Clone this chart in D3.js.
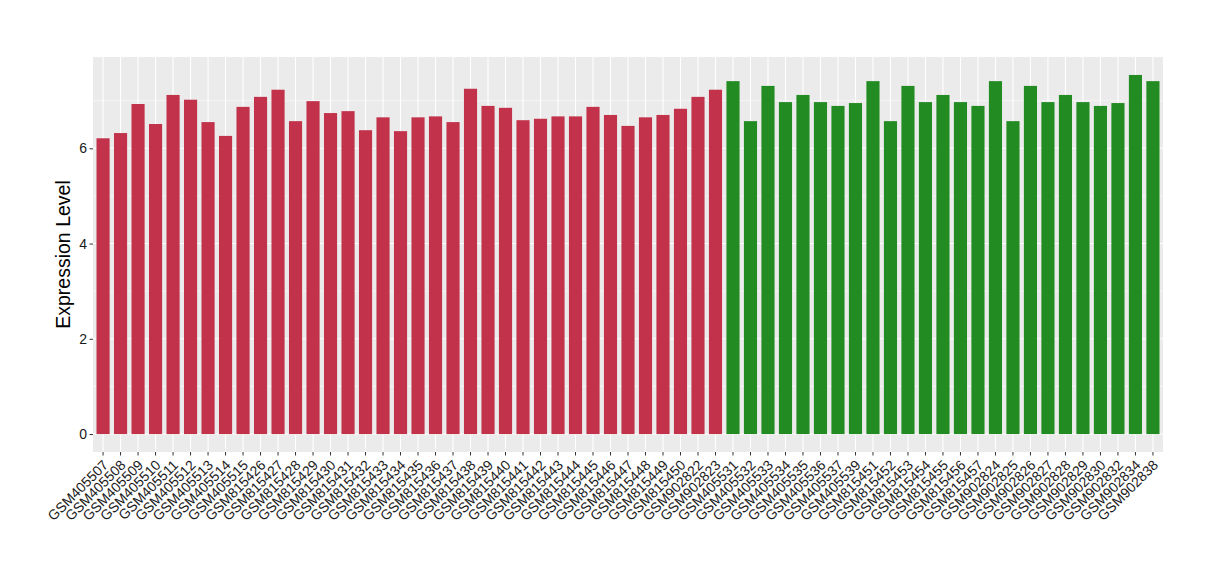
<!DOCTYPE html>
<html>
<head>
<meta charset="utf-8">
<script src="https://cdn.jsdelivr.net/npm/d3@7/dist/d3.min.js"></script>
<style>
  body { margin: 0; background: #fff; }
  text { font-family: "Liberation Sans", Arial, sans-serif; }
</style>
</head>
<body>
<svg class="expr-chart" width="1220" height="580"></svg>
<script>
// sample ids and expression values
var samples_red = ['GSM405507','GSM405508','GSM405509','GSM405510','GSM405511','GSM405512','GSM405513','GSM405514','GSM405515',
  'GSM815426','GSM815427','GSM815428','GSM815429','GSM815430','GSM815431','GSM815432','GSM815433','GSM815434','GSM815435',
  'GSM815436','GSM815437','GSM815438','GSM815439','GSM815440','GSM815441','GSM815442','GSM815443','GSM815444','GSM815445',
  'GSM815446','GSM815447','GSM815448','GSM815449','GSM815450','GSM902822','GSM902823'];
var values_red = [6.21,6.32,6.93,6.51,7.12,7.02,6.55,6.26,6.87,
  7.08,7.23,6.57,6.99,6.74,6.78,6.38,6.65,6.36,6.65,
  6.67,6.55,7.25,6.89,6.85,6.59,6.62,6.67,6.67,6.87,
  6.70,6.47,6.65,6.70,6.83,7.08,7.23];
var samples_green = ['GSM405531','GSM405532','GSM405533','GSM405534','GSM405535','GSM405536','GSM405537','GSM405539',
  'GSM815451','GSM815452','GSM815453','GSM815454','GSM815455','GSM815456','GSM815457',
  'GSM902824','GSM902825','GSM902826','GSM902827','GSM902828','GSM902829','GSM902830','GSM902832','GSM902834','GSM902838'];
var values_green = [7.41,6.57,7.31,6.97,7.12,6.97,6.89,6.95,
  7.41,6.57,7.31,6.97,7.12,6.97,6.89,
  7.41,6.57,7.31,6.97,7.12,6.97,6.89,6.95,7.54,7.41];
var y_ticks = [0, 2, 4, 6];

var data = [];
samples_red.forEach(function(s, i){ data.push({id: s, value: values_red[i], color: '#C2324A'}); });
samples_green.forEach(function(s, i){ data.push({id: s, value: values_green[i], color: '#228B22'}); });

var svg = d3.select('.expr-chart');
var margin = {top: 57, right: 57, bottom: 128, left: 93}
  , width = 1220 - margin.left - margin.right
  , height = 580 - margin.top - margin.bottom;

var g = svg.append('g')
  .attr('transform', 'translate(' + margin.left + ',' + margin.top + ')');

var ymax = d3.max(data, function(d){ return d.value; });
var yScale = d3.scaleLinear()
  .domain([-0.05 * ymax, ymax * 1.05])
  .range([height, 0]);

var xScale = d3.scaleBand()
  .domain(data.map(function(d){ return d.id; }))
  .range([0, width])
  .paddingInner(0.25)
  .paddingOuter(0.2);

// panel background
g.append('rect')
  .attr('width', width)
  .attr('height', height)
  .style('fill', '#EBEBEB');

// minor grid
g.selectAll('.minor')
  .data([1, 3, 5, 7])
  .enter().append('line')
  .attr('x1', 0).attr('x2', width)
  .attr('y1', function(d){ return yScale(d); })
  .attr('y2', function(d){ return yScale(d); })
  .style('stroke', '#fff').style('stroke-width', 0.55);

// major grid
g.selectAll('.hmajor')
  .data(y_ticks)
  .enter().append('line')
  .attr('x1', 0).attr('x2', width)
  .attr('y1', function(d){ return yScale(d); })
  .attr('y2', function(d){ return yScale(d); })
  .style('stroke', '#fff').style('stroke-width', 1.1);

g.selectAll('.vmajor')
  .data(data)
  .enter().append('line')
  .attr('x1', function(d){ return xScale(d.id) + xScale.bandwidth() / 2; })
  .attr('x2', function(d){ return xScale(d.id) + xScale.bandwidth() / 2; })
  .attr('y1', 0).attr('y2', height)
  .style('stroke', '#fff').style('stroke-width', 1.1);

// bars
g.selectAll('.bar')
  .data(data)
  .enter().append('rect')
  .attr('class', 'bar')
  .attr('x', function(d){ return xScale(d.id); })
  .attr('width', xScale.bandwidth())
  .attr('y', function(d){ return yScale(d.value); })
  .attr('height', function(d){ return yScale(0) - yScale(d.value); })
  .style('fill', function(d){ return d.color; });

// y axis
var y_axis = d3.axisLeft(yScale).tickValues(y_ticks).tickSize(3.5).tickPadding(2.5);
var yg = g.append('g').call(y_axis);
yg.select('.domain').remove();
yg.selectAll('line').style('stroke', '#333');
yg.selectAll('text').style('font-size', '14px').style('fill', '#1a1a1a');

// x axis
var x_axis = d3.axisBottom(xScale).tickSize(3.5);
var xg = g.append('g')
  .attr('transform', 'translate(0,' + height + ')')
  .call(x_axis);
xg.select('.domain').remove();
xg.selectAll('line').style('stroke', '#333');
xg.selectAll('text')
  .style('font-size', '14px')
  .style('fill', '#1a1a1a')
  .attr('text-anchor', 'end')
  .attr('y', 0)
  .attr('dy', 0)
  .attr('transform', 'translate(6,14) rotate(-45)');

// axis title
svg.append('text')
  .text('Expression Level')
  .attr('transform', 'translate(70,' + (margin.top + height / 2) + ') rotate(-90)')
  .attr('text-anchor', 'middle')
  .style('font-size', '19.5px')
  .style('fill', '#000');
</script>
</body>
</html>
